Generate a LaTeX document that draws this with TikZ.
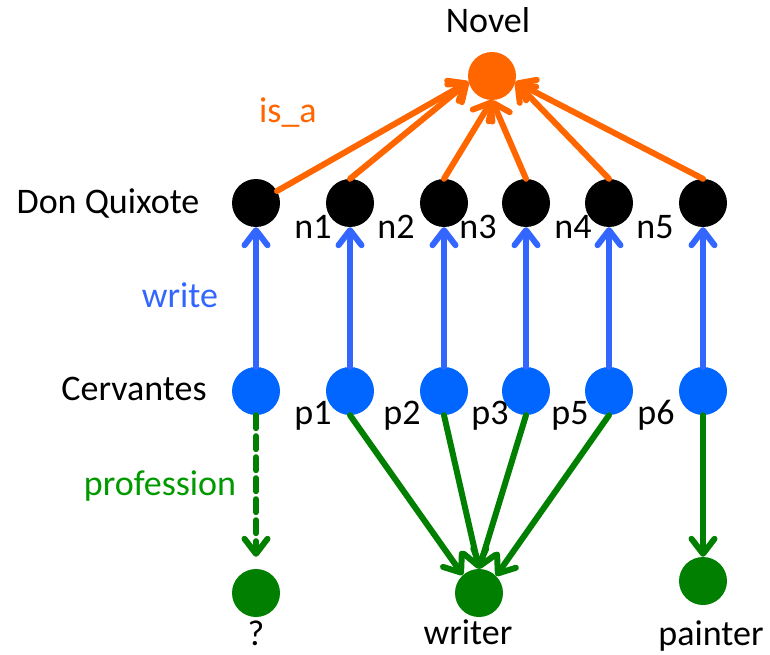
\documentclass[tikz,border=0pt]{standalone}
\usepackage{fontspec}
\setmainfont{Carlito}
\usetikzlibrary{arrows.meta}
\definecolor{novelorange}{HTML}{FF6600}
\definecolor{personblue}{HTML}{0066FF}
\definecolor{writeblue}{HTML}{3366FF}
\definecolor{profgreen}{HTML}{007F00}
\definecolor{proftext}{HTML}{009A00}
\tikzset{
  dot/.style={circle, minimum size=48pt, inner sep=0pt, draw=none},
  work/.style={dot, fill=black},
  person/.style={dot, fill=personblue},
  job/.style={dot, fill=profgreen},
  genre/.style={dot, fill=novelorange},
  lbl/.style={anchor=base, inner sep=0pt, font=\fontsize{36}{43}\selectfont},
  tip/.style={-{Straight Barb[length=15pt,width=23pt,round]}, line width=6pt, line cap=round},
  isa/.style={tip, draw=novelorange},
  writes/.style={tip, draw=writeblue},
  prof/.style={tip, draw=profgreen},
}
\begin{document}
\begin{tikzpicture}[x=1pt,y=-1pt]
\useasboundingbox (0,0) rectangle (770,655);

% genre
\node[genre] (novel) at (492,76) {};
\node[lbl] (novellbl) at (488,33) {Novel};

% works
\node[work] (dq) at (256,203) {};
\node[work] (n1) at (350,203) {};
\node[work] (n2) at (444,203) {};
\node[work] (n3) at (526,203) {};
\node[work] (n4) at (609,203) {};
\node[work] (n5) at (703,203) {};

% authors
\node[person] (cerv) at (256,391) {};
\node[person] (p1) at (350,391) {};
\node[person] (p2) at (444,391) {};
\node[person] (p3) at (526,391) {};
\node[person] (p5) at (609,391) {};
\node[person] (p6) at (703,391) {};

% professions
\node[job] (unk) at (256,593) {};
\node[job] (writer) at (479,593) {};
\node[job] (painter) at (703,581) {};

% labels
\node[lbl] (dqlbl) at (108,213) {Don Quixote};
\node[lbl] (n1lbl) at (313,238) {n1};
\node[lbl] (n2lbl) at (396,238) {n2};
\node[lbl] (n3lbl) at (478,238) {n3};
\node[lbl] (n4lbl) at (573,238) {n4};
\node[lbl] (n5lbl) at (655,238) {n5};
\node[lbl] (cervlbl) at (134,400) {Cervantes};
\node[lbl] (p1lbl) at (313,424) {p1};
\node[lbl] (p2lbl) at (402,424) {p2};
\node[lbl] (p3lbl) at (490,424) {p3};
\node[lbl] (p5lbl) at (570,424) {p5};
\node[lbl] (p6lbl) at (656,424) {p6};
\node[lbl] (unklbl) at (256,645) {?};
\node[lbl] (writerlbl) at (468,644) {writer};
\node[lbl] (painterlbl) at (711,645) {painter};

% relation names
\node[lbl, text=novelorange] (isalbl) at (288,123) {is\_a};
\node[lbl, text=writeblue] (writelbl) at (180,307) {write};
\node[lbl, text=proftext] (proflbl) at (160,495) {profession};

% is_a edges
\draw[isa] (dq) -- (novel.194);
\draw[isa] (n1.north) -- (novel.194);
\draw[isa] (n2.north) -- (novel.south);
\draw[isa] (n3.north) -- (novel.south);
\draw[isa] (n4.north) -- (novel.-14);
\draw[isa] (n5.north) -- (novel.-14);

% write edges
\draw[writes] (cerv.north) -- (dq.south);
\draw[writes] (p1.north) -- (n1.south);
\draw[writes] (p2.north) -- (n2.south);
\draw[writes] (p3.north) -- (n3.south);
\draw[writes] (p5.north) -- (n4.south);
\draw[writes] (p6.north) -- (n5.south);

% profession edges
\draw[prof, dash pattern=on 13pt off 8pt, shorten >=12pt] (cerv.south) -- (unk.north);
\draw[prof] (p1.south) -- (writer.132);
\draw[prof] (p2.south) -- (writer.north);
\draw[prof] (p3.south) -- (writer.north);
\draw[prof] (p5.south) -- (writer.45);
\draw[prof] (p6.south) -- (painter.north);
\end{tikzpicture}
\end{document}
